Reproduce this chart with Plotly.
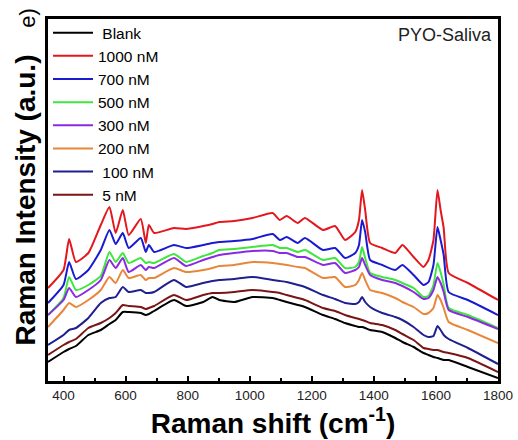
import plotly.graph_objects as go

# Raman shift grid (cm^-1)
shift = [350, 400, 418, 440, 480, 520, 548, 568, 591, 610, 649, 665, 675, 692, 756,
         795, 850, 880, 902, 950, 1009, 1074, 1097, 1119, 1155, 1178, 1236, 1275,
         1307, 1340, 1352, 1362, 1372, 1388, 1427, 1469, 1492, 1528, 1560, 1576,
         1592, 1605, 1615, 1625, 1641, 1703, 1800]

# Intensities (a.u.)
blank = [19, 29, 32, 35, 46, 51, 57, 61, 69, 69, 68, 66, 67, 70, 81,
         75, 79, 84, 81, 79, 84, 83, 81, 79, 76, 74, 66, 62,
         58, 55, 54, 54, 53, 51, 49, 43, 39, 34, 28, 26,
         24, 23, 22, 21, 21, 14, 3]
nm1000 = [93, 111, 142, 119, 128, 156, 174, 148, 171, 146, 162, 138, 156, 148, 153,
          152, 155, 157, 159, 160, 163, 168, 161, 165, 158, 163, 151, 155,
          141, 149, 161, 191, 171, 138, 133, 128, 136, 124, 114, 121,
          141, 191, 171, 153, 108, 98, 81]
nm700 = [78, 96, 119, 102, 111, 131, 151, 137, 148, 133, 143, 129, 136, 129, 136,
         133, 136, 138, 139, 140, 142, 147, 141, 144, 138, 143, 131, 133,
         123, 128, 136, 161, 149, 121, 116, 111, 116, 106, 96, 99,
         116, 154, 141, 126, 89, 81, 66]
nm500 = [66, 83, 104, 91, 96, 105, 129, 119, 128, 118, 123, 118, 119, 118, 127,
         119, 125, 128, 131, 132, 134, 136, 133, 133, 129, 131, 121, 123,
         113, 114, 119, 134, 123, 108, 104, 101, 98, 93, 84, 85,
         96, 118, 109, 96, 73, 66, 53]
nm300 = [66, 81, 93, 84, 91, 101, 121, 113, 123, 109, 116, 111, 114, 113, 123,
         115, 121, 124, 126, 128, 130, 130, 128, 128, 124, 124, 116, 118,
         108, 111, 114, 123, 116, 106, 101, 98, 95, 89, 82, 83,
         91, 104, 98, 89, 71, 64, 52]
nm200 = [54, 71, 78, 74, 81, 91, 104, 98, 111, 103, 106, 101, 103, 103, 113,
         109, 111, 113, 115, 116, 119, 118, 117, 116, 114, 113, 103, 104,
         94, 96, 101, 108, 101, 91, 88, 83, 79, 74, 67, 68,
         73, 86, 81, 73, 59, 51, 38]
nm100 = [36, 46, 51, 53, 63, 78, 83, 84, 94, 89, 91, 88, 88, 89, 101,
         94, 98, 100, 101, 102, 104, 101, 100, 99, 96, 94, 86, 82,
         78, 77, 79, 84, 79, 74, 68, 64, 61, 54, 46, 44,
         45, 55, 51, 46, 42, 33, 17]
nm5 = [26, 36, 39, 42, 53, 58, 63, 68, 76, 75, 74, 72, 73, 75, 86,
       81, 86, 88, 88, 89, 91, 89, 88, 86, 83, 81, 73, 70,
       66, 63, 62, 61, 60, 58, 56, 51, 47, 41, 33, 32,
       31, 31, 30, 29, 28, 23, 9]

names = [" Blank", "1000 nM", "700 nM", "500 nM", "300 nM", "200 nM", " 100 nM", " 5 nM"]
series = [blank, nm1000, nm700, nm500, nm300, nm200, nm100, nm5]
colors = ["#000000", "#e3171e", "#1a1ad0", "#3ee63e", "#8a2be2", "#e8873a", "#1f1f8f", "#7a1515"]

x_ticks = [400, 600, 800, 1000, 1200, 1400, 1600, 1800]

fig = go.Figure()
for name, ys, c in zip(names, series, colors):
    fig.add_trace(go.Scatter(x=shift, y=ys, mode="lines", name=name,
                             line=dict(color=c, width=2, shape="spline", smoothing=0.5)))

font_main = "Arial, Liberation Sans, sans-serif"
fig.update_layout(
    width=518, height=440,
    margin=dict(l=48, r=20, t=19, b=59),
    paper_bgcolor="white", plot_bgcolor="white",
    font=dict(family=font_main, color="#000000"),
    showlegend=True,
    legend=dict(x=0.0, y=1.008, xanchor="left", yanchor="top",
                bgcolor="rgba(0,0,0,0)", font=dict(size=15.5, family=font_main),
                tracegroupgap=0, itemwidth=40),
    xaxis=dict(range=[350, 1800], tickvals=x_ticks, ticks="inside", ticklen=5, tickwidth=2,
               tickcolor="#000", showline=True, linewidth=2.5, linecolor="#000", mirror=True,
               showgrid=False, zeroline=False, automargin=False,
               minor=dict(ticks="inside", ticklen=3, tickwidth=2, tickcolor="#000", dtick=100, tick0=300),
               tickfont=dict(size=13.5, color="#222"),
               title=dict(text="<b>Raman shift (cm<sup>-1</sup>)</b>", font=dict(size=28), standoff=2)),
    yaxis=dict(range=[0, 362], showticklabels=False, ticks="", showline=True, linewidth=2.5,
               linecolor="#000", mirror=True, showgrid=False, zeroline=False, automargin=False,
               title=dict(text="<b>Raman Intensity (a.u.)</b>", font=dict(size=28), standoff=2)),
    annotations=[
        dict(text="PYO-Saliva", xref="paper", yref="paper", x=0.992, y=0.99,
             xanchor="right", yanchor="top", showarrow=False, font=dict(size=18, color="#222")),
        dict(text="e)", xref="paper", yref="paper", x=-0.045, y=1.003, xanchor="center",
             yanchor="middle", textangle=-90, showarrow=False, font=dict(size=22, color="#000")),
    ],
)

fig.write_html("out.html", config={"displayModeBar": False},
               post_script="document.body.style.margin='0';")
